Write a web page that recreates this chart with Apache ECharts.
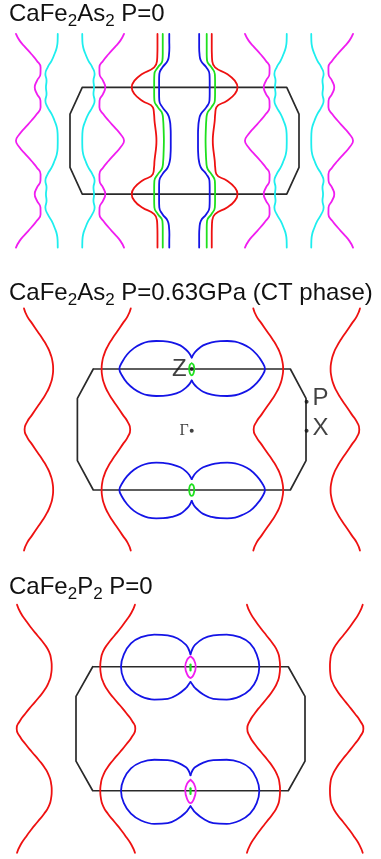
<!DOCTYPE html>
<html><head><meta charset="utf-8">
<script src="https://cdn.jsdelivr.net/npm/echarts@6/dist/echarts.min.js"></script>
<style>html,body{margin:0;padding:0;background:#fff}#c{width:381px;height:859px}</style>
</head><body><div id="c"></div>
<script>
// ===================== DATA =====================
// kx in units of Gamma-X, kz in units of Gamma-Z (Z at kz = +/-1)
const titles = ['CaFe{s|2}As{s|2} P=0', 'CaFe{s|2}As{s|2} P=0.63GPa (CT phase)', 'CaFe{s|2}P{s|2} P=0'];

// shared kz sampling of the open (vertical) Fermi-surface sheets
const kzRows = [2,1.875,1.75,1.625,1.5,1.375,1.25,1.125,1,0.875,0.75,0.625,0.5,0.375,0.25,0.125,0,-0.125,-0.25,-0.375,-0.5,-0.625,-0.75,-0.875,-1,-1.125,-1.25,-1.375,-1.5,-1.625,-1.75,-1.875,-2];

// ---- Panel 1: CaFe2As2 P=0 ----
const p1MagentaA = [-1.472,-1.44,-1.39,-1.338,-1.29,-1.257,-1.258,-1.288,-1.308,-1.288,-1.258,-1.257,-1.29,-1.338,-1.39,-1.44,-1.472,-1.44,-1.39,-1.338,-1.29,-1.257,-1.258,-1.288,-1.308,-1.288,-1.258,-1.257,-1.29,-1.338,-1.39,-1.44,-1.472];
const p1CyanA = [-1.107,-1.108,-1.115,-1.135,-1.16,-1.195,-1.215,-1.205,-1.21,-1.205,-1.215,-1.195,-1.16,-1.135,-1.115,-1.108,-1.107,-1.108,-1.115,-1.135,-1.16,-1.195,-1.215,-1.205,-1.21,-1.205,-1.215,-1.195,-1.16,-1.135,-1.115,-1.108,-1.107];
const p1CyanB = [-0.893,-0.892,-0.885,-0.865,-0.84,-0.805,-0.785,-0.795,-0.79,-0.795,-0.785,-0.805,-0.84,-0.865,-0.885,-0.892,-0.893,-0.892,-0.885,-0.865,-0.84,-0.805,-0.785,-0.795,-0.79,-0.795,-0.785,-0.805,-0.84,-0.865,-0.885,-0.892,-0.893];
const p1MagentaB = [-0.528,-0.56,-0.61,-0.662,-0.71,-0.743,-0.742,-0.712,-0.692,-0.712,-0.742,-0.743,-0.71,-0.662,-0.61,-0.56,-0.528,-0.56,-0.61,-0.662,-0.71,-0.743,-0.742,-0.712,-0.692,-0.712,-0.742,-0.743,-0.71,-0.662,-0.61,-0.56,-0.528];
const p1MagentaC = [0.528,0.56,0.61,0.662,0.71,0.743,0.742,0.712,0.692,0.712,0.742,0.743,0.71,0.662,0.61,0.56,0.528,0.56,0.61,0.662,0.71,0.743,0.742,0.712,0.692,0.712,0.742,0.743,0.71,0.662,0.61,0.56,0.528];
const p1CyanC = [0.893,0.892,0.885,0.865,0.84,0.805,0.785,0.795,0.79,0.795,0.785,0.805,0.84,0.865,0.885,0.892,0.893,0.892,0.885,0.865,0.84,0.805,0.785,0.795,0.79,0.795,0.785,0.805,0.84,0.865,0.885,0.892,0.893];
const p1CyanD = [1.107,1.108,1.115,1.135,1.16,1.195,1.215,1.205,1.21,1.205,1.215,1.195,1.16,1.135,1.115,1.108,1.107,1.108,1.115,1.135,1.16,1.195,1.215,1.205,1.21,1.205,1.215,1.195,1.16,1.135,1.115,1.108,1.107];
const p1MagentaD = [1.472,1.44,1.39,1.338,1.29,1.257,1.258,1.288,1.308,1.288,1.258,1.257,1.29,1.338,1.39,1.44,1.472,1.44,1.39,1.338,1.29,1.257,1.258,1.288,1.308,1.288,1.258,1.257,1.29,1.338,1.39,1.44,1.472];
const p1RedL = [-0.236,-0.236,-0.236,-0.237,-0.24,-0.265,-0.37,-0.437,-0.461,-0.437,-0.37,-0.276,-0.266,-0.262,-0.255,-0.248,-0.245,-0.248,-0.255,-0.262,-0.266,-0.276,-0.37,-0.437,-0.461,-0.437,-0.37,-0.265,-0.24,-0.237,-0.236,-0.236,-0.236];
const p1GreenL = [-0.19,-0.19,-0.19,-0.19,-0.193,-0.232,-0.263,-0.265,-0.265,-0.265,-0.263,-0.232,-0.193,-0.186,-0.183,-0.181,-0.18,-0.181,-0.183,-0.186,-0.193,-0.232,-0.263,-0.265,-0.265,-0.265,-0.263,-0.232,-0.193,-0.19,-0.19,-0.19,-0.19];
const p1BlueL = [-0.133,-0.133,-0.132,-0.135,-0.147,-0.192,-0.22,-0.222,-0.222,-0.222,-0.22,-0.192,-0.147,-0.128,-0.122,-0.12,-0.12,-0.12,-0.122,-0.128,-0.147,-0.192,-0.22,-0.222,-0.222,-0.222,-0.22,-0.192,-0.147,-0.135,-0.132,-0.133,-0.133];
const p1BlueR = [0.128,0.128,0.128,0.131,0.143,0.19,0.218,0.22,0.22,0.22,0.218,0.19,0.143,0.126,0.12,0.118,0.118,0.118,0.12,0.126,0.143,0.19,0.218,0.22,0.22,0.22,0.218,0.19,0.143,0.131,0.128,0.128,0.128];
const p1GreenR = [0.194,0.194,0.194,0.194,0.197,0.235,0.265,0.267,0.267,0.267,0.265,0.235,0.197,0.19,0.187,0.185,0.184,0.185,0.187,0.19,0.197,0.235,0.265,0.267,0.267,0.267,0.265,0.235,0.197,0.194,0.194,0.194,0.194];
const p1RedR = [0.238,0.238,0.238,0.239,0.242,0.267,0.372,0.439,0.463,0.439,0.372,0.278,0.268,0.264,0.257,0.25,0.247,0.25,0.257,0.264,0.268,0.278,0.372,0.439,0.463,0.439,0.372,0.267,0.242,0.239,0.238,0.238,0.238];
const p1BZ = [[-0.893,1],[0.893,1],[1,0.5],[1,-0.5],[0.893,-1],[-0.893,-1],[-1,-0.5],[-1,0.5],[-0.893,1]];

// ---- Panel 2: CaFe2As2 P=0.63GPa (CT phase) ----
const p2Red1 = [-1.467,-1.44,-1.395,-1.35,-1.305,-1.265,-1.236,-1.218,-1.212,-1.218,-1.236,-1.265,-1.305,-1.35,-1.395,-1.44,-1.462,-1.44,-1.395,-1.35,-1.305,-1.265,-1.236,-1.218,-1.212,-1.218,-1.236,-1.265,-1.305,-1.35,-1.395,-1.44,-1.467];
const p2Red2 = [-0.533,-0.56,-0.605,-0.65,-0.695,-0.735,-0.764,-0.782,-0.788,-0.782,-0.764,-0.735,-0.695,-0.65,-0.605,-0.56,-0.538,-0.56,-0.605,-0.65,-0.695,-0.735,-0.764,-0.782,-0.788,-0.782,-0.764,-0.735,-0.695,-0.65,-0.605,-0.56,-0.533];
const p2Red3 = [0.539,0.566,0.612,0.658,0.704,0.745,0.775,0.793,0.8,0.793,0.775,0.745,0.704,0.658,0.612,0.566,0.542,0.566,0.612,0.658,0.704,0.745,0.775,0.793,0.8,0.793,0.775,0.745,0.704,0.658,0.612,0.566,0.539];
const p2Red4 = [1.472,1.445,1.4,1.355,1.31,1.27,1.24,1.222,1.215,1.222,1.24,1.27,1.31,1.355,1.4,1.445,1.466,1.445,1.4,1.355,1.31,1.27,1.24,1.222,1.215,1.222,1.24,1.27,1.31,1.355,1.4,1.445,1.472];
const p2BlueTopR = [[0,1.19],[0.02,1.255],[0.045,1.31],[0.1,1.39],[0.175,1.44],[0.25,1.46],[0.31,1.463],[0.38,1.452],[0.44,1.415],[0.51,1.345],[0.57,1.24],[0.615,1.12],[0.641,1.0],[0.615,0.885],[0.57,0.77],[0.51,0.67],[0.44,0.6],[0.38,0.566],[0.31,0.554],[0.25,0.556],[0.175,0.575],[0.1,0.625],[0.045,0.7],[0.02,0.75],[0,0.81]];
const p2BlueTopL = [[0,1.19],[-0.02,1.255],[-0.045,1.31],[-0.1,1.39],[-0.175,1.44],[-0.25,1.46],[-0.31,1.463],[-0.38,1.452],[-0.44,1.415],[-0.505,1.345],[-0.565,1.24],[-0.607,1.12],[-0.633,1.0],[-0.607,0.885],[-0.565,0.77],[-0.505,0.67],[-0.44,0.6],[-0.38,0.566],[-0.31,0.554],[-0.25,0.556],[-0.175,0.575],[-0.1,0.625],[-0.045,0.7],[-0.02,0.75],[0,0.81]];
const p2BlueBotR = [[0,-0.82],[0.02,-0.755],[0.045,-0.70],[0.1,-0.625],[0.175,-0.575],[0.25,-0.553],[0.31,-0.548],[0.38,-0.558],[0.44,-0.595],[0.51,-0.665],[0.57,-0.77],[0.615,-0.885],[0.641,-1.0],[0.615,-1.12],[0.57,-1.235],[0.51,-1.345],[0.44,-1.415],[0.38,-1.455],[0.31,-1.468],[0.25,-1.466],[0.175,-1.445],[0.1,-1.395],[0.045,-1.31],[0.02,-1.255],[0,-1.18]];
const p2BlueBotL = [[0,-0.82],[-0.02,-0.755],[-0.045,-0.70],[-0.1,-0.625],[-0.175,-0.575],[-0.25,-0.553],[-0.31,-0.548],[-0.38,-0.558],[-0.44,-0.595],[-0.505,-0.665],[-0.565,-0.77],[-0.607,-0.885],[-0.633,-1.0],[-0.607,-1.12],[-0.565,-1.235],[-0.505,-1.345],[-0.44,-1.415],[-0.38,-1.455],[-0.31,-1.468],[-0.25,-1.466],[-0.175,-1.445],[-0.1,-1.395],[-0.045,-1.31],[-0.02,-1.255],[0,-1.18]];
const p2GreenTop = [[0,1.095],[0.016,1.068],[0.022,1.0],[0.016,0.93],[0,0.896],[-0.016,0.93],[-0.022,1.0],[-0.016,1.068],[0,1.095]];
const p2GreenBot = [[0,-0.903],[0.016,-0.93],[0.022,-1.0],[0.016,-1.068],[0,-1.097],[-0.016,-1.068],[-0.022,-1.0],[-0.016,-0.93],[0,-0.903]];
const p2BZ = [[-0.861,1],[0.863,1],[1,0.516],[1,-0.516],[0.863,-1],[-0.861,-1],[-1,-0.516],[-1,0.516],[-0.861,1]];
const p2PointNames = ['Z', 'P', 'X', 'Γ'];
const p2PointKx = [0, 1.005, 1.005, 0];
const p2PointKz = [1, 0.46, -0.02, -0.02];

// ---- Panel 3: CaFe2P2 P=0 ----
const p3Red1 = [-1.515,-1.485,-1.44,-1.39,-1.335,-1.28,-1.238,-1.218,-1.212,-1.218,-1.238,-1.275,-1.327,-1.385,-1.44,-1.49,-1.518,-1.49,-1.44,-1.385,-1.327,-1.275,-1.238,-1.218,-1.212,-1.218,-1.238,-1.28,-1.335,-1.39,-1.44,-1.485,-1.515];
const p3Red2 = [-0.485,-0.515,-0.56,-0.61,-0.665,-0.72,-0.762,-0.782,-0.788,-0.782,-0.762,-0.725,-0.673,-0.615,-0.56,-0.51,-0.482,-0.51,-0.56,-0.615,-0.673,-0.725,-0.762,-0.782,-0.788,-0.782,-0.762,-0.72,-0.665,-0.61,-0.56,-0.515,-0.485];
const p3Red3 = [0.493,0.52,0.563,0.612,0.665,0.718,0.758,0.777,0.782,0.777,0.758,0.722,0.672,0.616,0.562,0.518,0.496,0.518,0.562,0.616,0.672,0.722,0.758,0.777,0.782,0.777,0.758,0.718,0.665,0.612,0.563,0.52,0.493];
const p3Red4 = [1.504,1.476,1.433,1.385,1.332,1.278,1.24,1.222,1.218,1.222,1.24,1.276,1.325,1.38,1.433,1.482,1.51,1.482,1.433,1.38,1.325,1.276,1.24,1.222,1.218,1.222,1.24,1.278,1.332,1.385,1.433,1.476,1.504];
const p3BlueTopR = [[0,1.203],[0.018,1.29],[0.039,1.353],[0.112,1.455],[0.199,1.505],[0.316,1.519],[0.432,1.476],[0.52,1.375],[0.578,1.2],[0.601,1.0],[0.578,0.795],[0.52,0.63],[0.432,0.522],[0.316,0.47],[0.199,0.483],[0.112,0.553],[0.039,0.658],[0.018,0.71],[0,0.754]];
const p3BlueTopL = [[0,1.203],[-0.018,1.29],[-0.039,1.353],[-0.112,1.455],[-0.199,1.505],[-0.316,1.519],[-0.432,1.476],[-0.52,1.375],[-0.582,1.2],[-0.607,1.0],[-0.582,0.795],[-0.52,0.63],[-0.432,0.522],[-0.316,0.47],[-0.199,0.483],[-0.112,0.553],[-0.039,0.658],[-0.018,0.71],[0,0.754]];
const p3BlueBotR = [[0,-0.75],[0.018,-0.67],[0.039,-0.62],[0.112,-0.545],[0.199,-0.507],[0.316,-0.5],[0.432,-0.54],[0.52,-0.64],[0.578,-0.81],[0.601,-1.0],[0.578,-1.2],[0.52,-1.37],[0.432,-1.48],[0.316,-1.535],[0.199,-1.522],[0.112,-1.452],[0.039,-1.345],[0.018,-1.295],[0,-1.25]];
const p3BlueBotL = [[0,-0.75],[-0.018,-0.67],[-0.039,-0.62],[-0.112,-0.545],[-0.199,-0.507],[-0.316,-0.5],[-0.432,-0.54],[-0.52,-0.64],[-0.582,-0.81],[-0.607,-1.0],[-0.582,-1.2],[-0.52,-1.37],[-0.432,-1.48],[-0.316,-1.535],[-0.199,-1.522],[-0.112,-1.452],[-0.039,-1.345],[-0.018,-1.295],[0,-1.25]];
const p3MagTop = [[0,1.168],[0.03,1.11],[0.046,1.0],[0.03,0.88],[0,0.818],[-0.03,0.88],[-0.046,1.0],[-0.03,1.11],[0,1.168]];
const p3MagBot = [[0,-0.823],[0.03,-0.885],[0.046,-1.0],[0.03,-1.13],[0,-1.2],[-0.03,-1.13],[-0.046,-1.0],[-0.03,-0.885],[0,-0.823]];
const p3GreenTop = [[0,1.035],[0,0.94]];
const p3GreenBot = [[0,-0.96],[0,-1.05]];
const p3BZ = [[-0.854,1],[0.854,1],[1,0.523],[1,-0.523],[0.854,-1],[-0.854,-1],[-1,-0.523],[-1,0.523],[-0.854,1]];

// ===================== STYLE / LAYOUT =====================
const C = {red:'#ee1111', blue:'#1414e6', green:'#1ee01e', magenta:'#f01ef0', cyan:'#1eeeee', bz:'#2a2a2a'};
const FONT = 'Liberation Sans, Arial, Helvetica, sans-serif';
const grids = [
  {left: 1.3, top: 28.6, width: 366.4, height: 224.3},
  {left: 8.8, top: 302.45, width: 365.8, height: 254.1},
  {left: 7.3, top: 598.5, width: 366.4, height: 261.7}
];
const titleTops = [-1.1, 277.9, 572.2];

function zip(kx, kz) { return kz.map((z, i) => [kx[i], z]); }
function curve(g, data, color, opts) {
  opts = opts || {};
  return {
    type: 'line', xAxisIndex: g, yAxisIndex: g, data: data, symbol: 'none',
    smooth: opts.smooth == null ? 0.6 : opts.smooth, silent: true, animation: false, clip: false,
    lineStyle: {color: color, width: opts.width || 1.8, cap: 'round', join: 'round'}
  };
}

const series = [];
// panel 1
series.push(curve(0, p1BZ, C.bz, {smooth: false, width: 1.7}));
[[p1MagentaA, C.magenta], [p1CyanA, C.cyan], [p1CyanB, C.cyan], [p1MagentaB, C.magenta],
 [p1MagentaC, C.magenta], [p1CyanC, C.cyan], [p1CyanD, C.cyan], [p1MagentaD, C.magenta],
 [p1RedL, C.red], [p1GreenL, C.green], [p1BlueL, C.blue], [p1BlueR, C.blue], [p1GreenR, C.green], [p1RedR, C.red]
].forEach(([v, c]) => series.push(curve(0, zip(v, kzRows), c, {smooth: 0.5})));
// panel 2
series.push(curve(1, p2BZ, C.bz, {smooth: false, width: 1.7}));
[p2Red1, p2Red2, p2Red3, p2Red4].forEach(v => series.push(curve(1, zip(v, kzRows), C.red)));
[p2BlueTopR, p2BlueTopL, p2BlueBotR, p2BlueBotL].forEach(d => series.push(curve(1, d, C.blue, {smooth: 0.4})));
[p2GreenTop, p2GreenBot].forEach(d => series.push(curve(1, d, C.green, {smooth: 0.5})));
// panel 3
series.push(curve(2, p3BZ, C.bz, {smooth: false, width: 1.7}));
[p3Red1, p3Red2, p3Red3, p3Red4].forEach(v => series.push(curve(2, zip(v, kzRows), C.red)));
[p3BlueTopR, p3BlueTopL, p3BlueBotR, p3BlueBotL].forEach(d => series.push(curve(2, d, C.blue, {smooth: 0.4})));
[p3MagTop, p3MagBot].forEach(d => series.push(curve(2, d, C.magenta, {smooth: 0.35})));
[p3GreenTop, p3GreenBot].forEach(d => series.push(curve(2, d, C.green, {smooth: false, width: 2.2})));

// high-symmetry points
const labelStyle = {
  'Z': {position: 'left', distance: 3, fontSize: 24, fontFamily: FONT, offset: [0, 0]},
  'P': {position: 'right', distance: 4, fontSize: 24, fontFamily: FONT, offset: [0, -3]},
  'X': {position: 'right', distance: 4, fontSize: 24, fontFamily: FONT, offset: [0, -2]},
  'Γ': {position: 'left', distance: 1, fontSize: 16, fontFamily: 'Liberation Serif, Times New Roman, serif', offset: [0, 0]}
};
series.push({
  type: 'scatter', xAxisIndex: 1, yAxisIndex: 1, symbol: 'circle', symbolSize: 4, silent: true, animation: false,
  itemStyle: {color: '#111'}, z: 5,
  data: p2PointNames.map((n, i) => ({
    name: n, value: [p2PointKx[i], p2PointKz[i]],
    label: Object.assign({show: true, formatter: '{b}', color: '#111'}, labelStyle[n])
  }))
});

const option = {
  backgroundColor: '#fff',
  animation: false,
  title: titles.map((t, i) => ({
    text: t, left: 9, top: titleTops[i], padding: 0,
    textStyle: {fontSize: 24, fontWeight: 'normal', color: '#111', fontFamily: FONT, lineHeight: 31,
      rich: {s: {fontSize: 17, lineHeight: 17, verticalAlign: 'bottom', color: '#111', fontFamily: FONT}}}
  })),
  grid: grids.map(g => Object.assign({containLabel: false}, g)),
  xAxis: grids.map((g, i) => ({type: 'value', gridIndex: i, min: -1.6, max: 1.6, show: false})),
  yAxis: grids.map((g, i) => ({type: 'value', gridIndex: i, min: -2.1, max: 2.1, show: false})),
  series: series
};
const chart = echarts.init(document.getElementById('c'), null, {renderer: 'canvas'});
chart.setOption(option);
</script></body></html>
